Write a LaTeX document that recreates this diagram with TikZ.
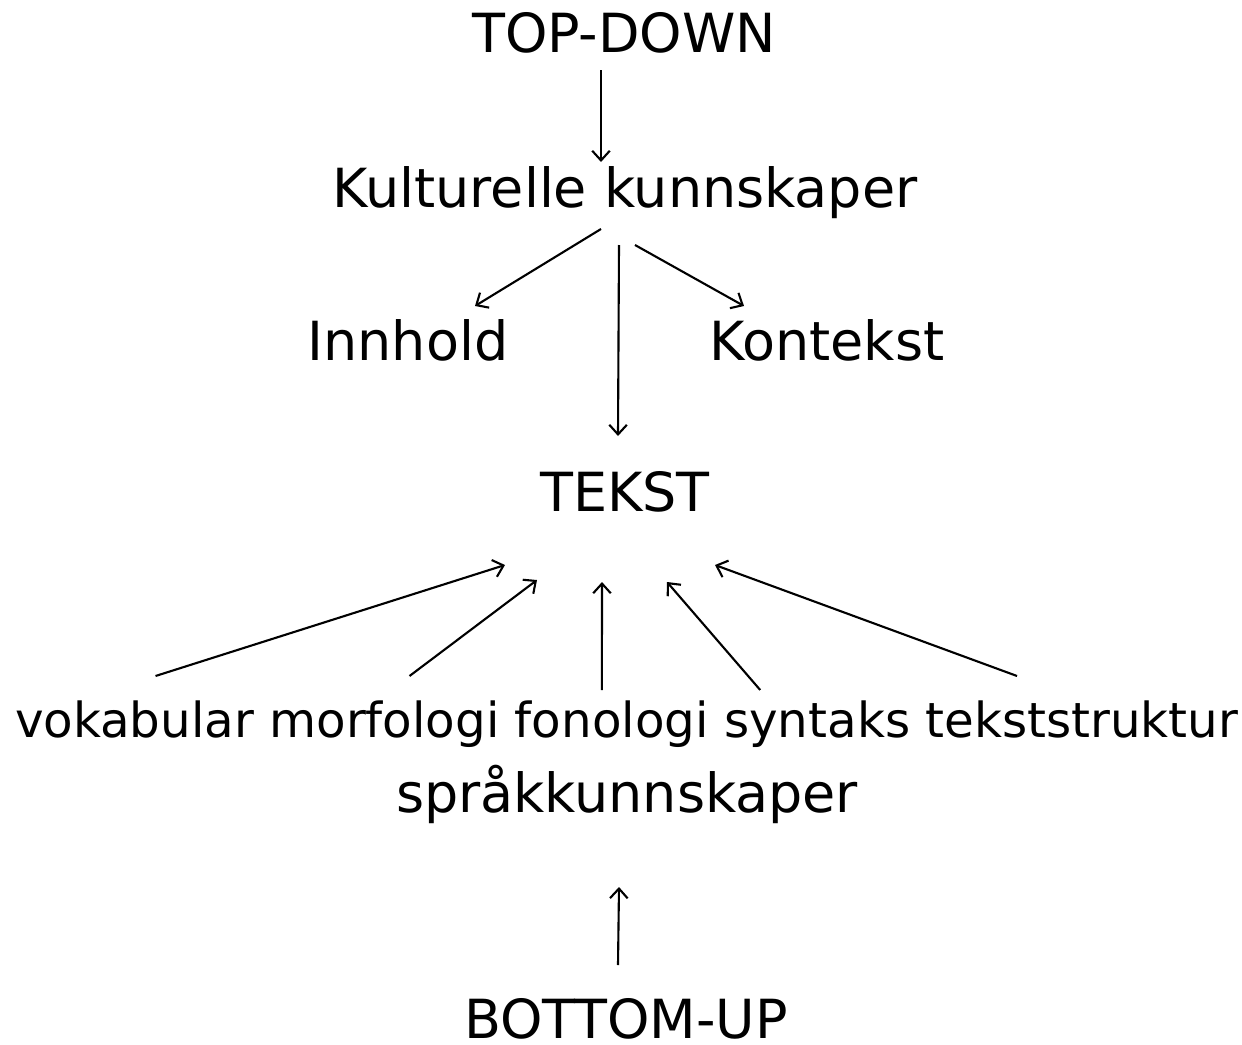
\documentclass[tikz,border=0pt]{standalone}
\usepackage{fontspec}
\setmainfont{DejaVu Sans}
\usetikzlibrary{arrows.meta,positioning}

\begin{document}
\begin{tikzpicture}[x=0.02cm,y=-0.02cm,
  lbl/.style={inner sep=0,outer sep=0,anchor=base,font=\fontsize{30.7}{36}\selectfont},
  word/.style={lbl,font=\fontsize{27.5}{33}\selectfont},
  arr/.style={-{Straight Barb[length=5.5pt,width=10pt]},line width=1.2pt},
  node distance=8.75pt]
\useasboundingbox (0,0) rectangle (1242,1045);

% top half
\node[lbl] (topdown) at (624,52) {TOP-DOWN};
\node[lbl] (kult) at (625,207) {Kulturelle kunnskaper};
\node[lbl] (inn) at (408,360) {Innhold};
\node[lbl] (kon) at (827,360) {Kontekst};
\node[lbl] (tekst) at (625,511) {TEKST};

% bottom half
\node[word,anchor=base west] (vok) at (15,737) {vokabular};
\node[word,base right=of vok] (morf) {morfologi};
\node[word,base right=of morf] (fon) {fonologi};
\node[word,base right=of fon] (syn) {syntaks};
\node[word,base right=of syn] (struk) {tekststruktur};
\node[lbl] (spr) at (627,812) {språkkunnskaper};
\node[lbl] (bu) at (626,1038) {BOTTOM-UP};

\draw[arr] ([shift={(-23,18)}]topdown.base) -- ([shift={(-24,-45)}]kult.base);
\draw[arr] ([shift={(-24,22)}]kult.base) -- ([shift={(67,-54)}]inn.base);
\draw[arr] ([shift={(-6,38)}]kult.base) -- ([shift={(-7,-75)}]tekst.base);
\draw[arr] ([shift={(10,38)}]kult.base) -- ([shift={(-83,-54)}]kon.base);

\draw[arr] ([shift={(21,-61)}]vok.base) -- ([shift={(-120,54)}]tekst.base);
\draw[arr] ([shift={(25,-61)}]morf.base) -- ([shift={(-88,69)}]tekst.base);
\draw[arr] ([shift={(-10,-47)}]fon.base) -- ([shift={(-23,71)}]tekst.base);
\draw[arr] ([shift={(-57,-47)}]syn.base) -- ([shift={(42,71)}]tekst.base);
\draw[arr] ([shift={(-65,-61)}]struk.base) -- ([shift={(90,54)}]tekst.base);

\draw[arr] ([shift={(-8,-73)}]bu.base) -- ([shift={(-8,75)}]spr.base);
\end{tikzpicture}
\end{document}
